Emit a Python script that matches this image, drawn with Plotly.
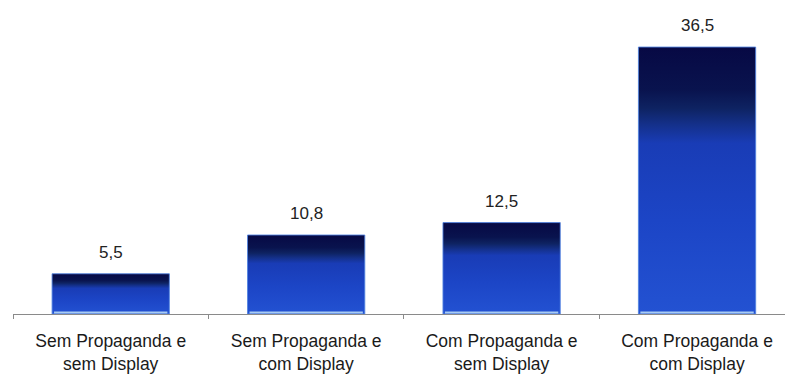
import plotly.graph_objects as go

# Chart data
categories = [
    "Sem Propaganda e<br>sem Display",
    "Sem Propaganda e<br>com Display",
    "Com Propaganda e<br>sem Display",
    "Com Propaganda e<br>com Display",
]
values = [5.5, 10.8, 12.5, 36.5]

BAR_HALF = 0.3          # half of the bar width, in category units
FONT = "Liberation Sans, Arial, sans-serif"

# Vertical gradient: 0 = bottom of the bar, 1 = top of the bar
bar_gradient = [
    [0.00, "#2352d2"],
    [0.35, "#1c45c6"],
    [0.64, "#193cb6"],
    [0.71, "#14308a"],
    [0.77, "#0e2362"],
    [0.84, "#09134e"],
    [1.00, "#070944"],
]

fig = go.Figure()

for i, v in enumerate(values):
    fig.add_trace(go.Scatter(
        x=[i - BAR_HALF, i + BAR_HALF, i + BAR_HALF, i - BAR_HALF, i - BAR_HALF],
        y=[0, 0, v, v, 0],
        mode="lines",
        fill="toself",
        fillgradient=dict(type="vertical", colorscale=bar_gradient),
        line=dict(color="rgba(80,130,225,0.85)", width=1),
        hoverinfo="skip",
        showlegend=False,
    ))

# Pale highlight strip along the foot of each bar
strip_x, strip_y = [], []
for i in range(len(values)):
    strip_x += [i - BAR_HALF + 0.01, i + BAR_HALF - 0.01, None]
    strip_y += [0.2, 0.2, None]
fig.add_trace(go.Scatter(
    x=strip_x, y=strip_y, mode="lines",
    line=dict(color="#a8ccf4", width=2),
    hoverinfo="skip", showlegend=False,
))

# Value labels above the bars (decimal comma)
for i, v in enumerate(values):
    fig.add_annotation(
        x=i, y=v, xref="x", yref="y",
        text=f"{v:.1f}".replace(".", ","),
        showarrow=False, yanchor="bottom", yshift=10,
        font=dict(family=FONT, size=17, color="#222222"),
    )

fig.update_layout(
    width=785, height=375,
    margin=dict(l=13, r=0, t=20, b=61),
    paper_bgcolor="white", plot_bgcolor="white",
    font=dict(family=FONT, color="#222222"),
    xaxis=dict(
        range=[-0.5, 3.45],
        tickmode="array",
        tickvals=list(range(len(categories))),
        ticktext=categories,
        ticks="",
        ticklabelstandoff=11,
        tickfont=dict(family=FONT, size=17.5, color="#1a1a1a"),
        showgrid=False, zeroline=False,
        showline=True, linecolor="#8a8a8a", linewidth=1,
        minor=dict(
            tickmode="array",
            tickvals=[k - 0.5 for k in range(len(categories) + 1)],
            ticks="outside", ticklen=4, tickcolor="#8a8a8a", tickwidth=1,
            showgrid=False,
        ),
        fixedrange=True,
    ),
    yaxis=dict(
        range=[0, 40.2],
        visible=False,
        showgrid=False, zeroline=False,
        fixedrange=True,
    ),
)

fig.write_html("out.html")
